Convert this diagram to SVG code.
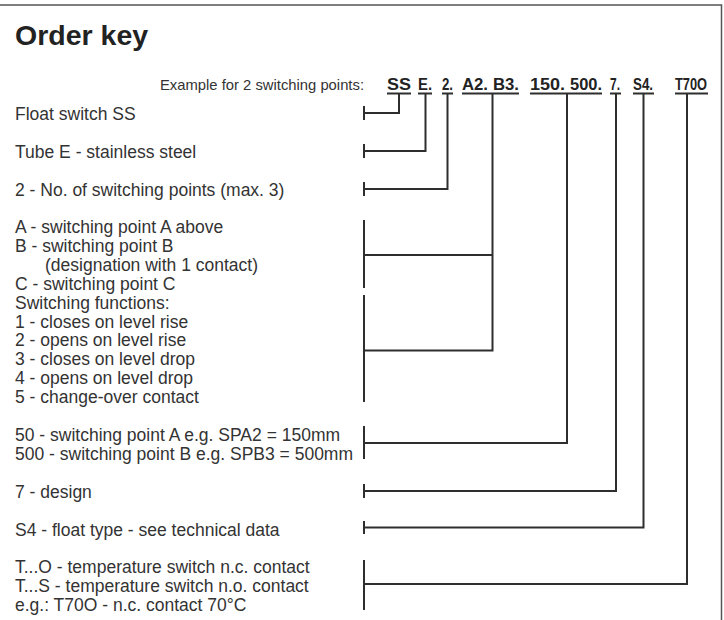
<svg xmlns="http://www.w3.org/2000/svg" width="724" height="620" viewBox="0 0 724 620">
<style>
.t{font-family:"Liberation Sans",Arial,sans-serif;font-size:17.5px;fill:#333}
.title{font-family:"Liberation Sans",Arial,sans-serif;font-size:28.5px;font-weight:bold;fill:#222}
.ex{font-family:"Liberation Sans",Arial,sans-serif;font-size:15px;fill:#333}
.code{font-family:"Liberation Sans",Arial,sans-serif;font-size:16px;font-weight:bold;fill:#222}
.ln{fill:none;stroke:#2e2e2e;stroke-width:2;stroke-linecap:butt;stroke-linejoin:miter}
.frame{fill:none;stroke:#555;stroke-width:1.5}
</style>
<rect width="724" height="620" fill="#fff"/>
<path class="frame" d="M0 5 H721.5 V620"/>
<text class="title" x="15" y="45">Order key</text>
<g id="example">
<text class="ex" x="160" y="90" textLength="204" lengthAdjust="spacingAndGlyphs">Example for 2 switching points:</text>
<text class="code" x="387" y="90" textLength="24" lengthAdjust="spacingAndGlyphs">SS</text>
<text class="code" x="418" y="90" textLength="14" lengthAdjust="spacingAndGlyphs">E.</text>
<text class="code" x="442" y="90" textLength="11" lengthAdjust="spacingAndGlyphs">2.</text>
<text class="code" x="462" y="90" textLength="26" lengthAdjust="spacingAndGlyphs">A2.</text>
<text class="code" x="493" y="90" textLength="26" lengthAdjust="spacingAndGlyphs">B3.</text>
<text class="code" x="530" y="90" textLength="35" lengthAdjust="spacingAndGlyphs">150.</text>
<text class="code" x="570" y="90" textLength="32" lengthAdjust="spacingAndGlyphs">500.</text>
<text class="code" x="610" y="90" textLength="10" lengthAdjust="spacingAndGlyphs">7.</text>
<text class="code" x="633" y="90" textLength="20" lengthAdjust="spacingAndGlyphs">S4.</text>
<text class="code" x="675" y="90" textLength="32" lengthAdjust="spacingAndGlyphs">T70O</text>
<path class="ln" d="M387 93.5 H411 M418 93.5 H432 M442 93.5 H453 M462 93.5 H519 M530 93.5 H602 M610 93.5 H621 M633 93.5 H654 M675 93.5 H708"/>
</g>
<g id="n-float"><text class="t" x="15" y="120">Float switch SS</text></g>
<g id="n-tube"><text class="t" x="15" y="158">Tube E - stainless steel</text></g>
<g id="n-points"><text class="t" x="15" y="195.6">2 - No. of switching points (max. 3)</text></g>
<g id="n-abc">
<text class="t" x="15" y="233">A - switching point A above</text>
<text class="t" x="15" y="251.9">B - switching point B</text>
<text class="t" x="45" y="270.8">(designation with 1 contact)</text>
<text class="t" x="15" y="289.7">C - switching point C</text>
</g>
<g id="n-functions">
<text class="t" x="15" y="308.6">Switching functions:</text>
<text class="t" x="15" y="327.5">1 - closes on level rise</text>
<text class="t" x="15" y="346.4">2 - opens on level rise</text>
<text class="t" x="15" y="365.3">3 - closes on level drop</text>
<text class="t" x="15" y="384.2">4 - opens on level drop</text>
<text class="t" x="15" y="403.1">5 - change-over contact</text>
</g>
<g id="n-distance">
<text class="t" x="15" y="441.3">50 - switching point A e.g. SPA2 = 150mm</text>
<text class="t" x="15" y="459.6">500 - switching point B e.g. SPB3 = 500mm</text>
</g>
<g id="n-design"><text class="t" x="15" y="498">7 - design</text></g>
<g id="n-float-type"><text class="t" x="15" y="535.6">S4 - float type - see technical data</text></g>
<g id="n-temp">
<text class="t" x="15" y="573">T...O - temperature switch n.c. contact</text>
<text class="t" x="15" y="592">T...S - temperature switch n.o. contact</text>
<text class="t" x="15" y="610.6">e.g.: T70O - n.c. contact 70°C</text>
</g>
<g id="connectors">
<path class="ln" d="M399 93.5 V113 H364 M364 106 V120"/>
<path class="ln" d="M425.5 93.5 V151 H364 M364 144 V158"/>
<path class="ln" d="M447.5 93.5 V189 H364 M364 182 V196"/>
<path class="ln" d="M492.5 93.5 V350.5 H364 M492.5 255 H364 M364 220 V288 M364 295 V402"/>
<path class="ln" d="M567 93.5 V443 H364 M364 426 V459"/>
<path class="ln" d="M616 93.5 V491 H364 M364 484 V498"/>
<path class="ln" d="M643.5 93.5 V527.5 H364 M364 521 V534"/>
<path class="ln" d="M687 93.5 V584 H364 M364 560 V610"/>
</g>
</svg>
